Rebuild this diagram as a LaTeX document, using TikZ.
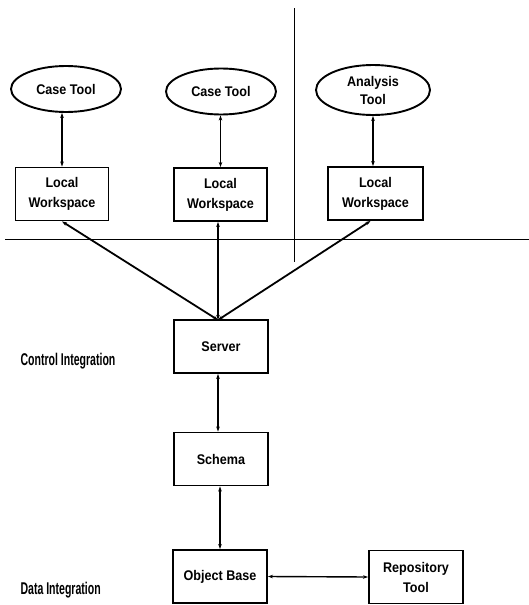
\documentclass[tikz,border=0pt]{standalone}
\usepackage{fontspec}
\setmainfont{Liberation Sans}
\newfontfamily\narrowfont[FakeStretch=0.62]{Liberation Sans}
\newfontfamily\boxfont[FakeStretch=0.9]{Liberation Sans}
\usetikzlibrary{shapes.geometric,arrows.meta}

\tikzset{
  tool/.style={draw, ellipse, line width=1.9pt, minimum width=110pt, minimum height=46pt,
    inner sep=0pt, align=center, font=\boxfont\fontsize{14}{18}\selectfont\bfseries},
  unit/.style={draw, rectangle, line width=1.9pt, minimum width=93pt, minimum height=53pt,
    inner sep=0pt, align=center, font=\boxfont\fontsize{14}{20}\selectfont\bfseries},
  link/.style={{Stealth[length=5pt,width=3.5pt]}-{Stealth[length=5pt,width=3.5pt]}, line width=1.4pt},
  feed/.style={link, line width=1.8pt},
  divider/.style={line width=0.8pt},
  level/.style={anchor=west, font=\narrowfont\fontsize{17}{19}\selectfont\bfseries}
}

\begin{document}
\begin{tikzpicture}[x=1pt, y=-1pt]
  \useasboundingbox (0,0) rectangle (529,605);

  % --- 1. separators ---
  \draw[divider] (5,239) -- (529,239);
  \draw[divider] (294,8) -- (294,262);

  % --- 2. tools ---
  \node[tool] (case1) at (66,89) {Case Tool};
  \node[tool] (case2) at (221,91.5) {Case Tool};
  \node[tool, minimum width=114pt, minimum height=50pt] (analysis) at (373,90) {Analysis\\Tool};

  % --- 3. local workspaces ---
  \node[unit] (ws1) at (62,194) {Local\\Workspace};
  \node[unit] (ws2) at (220.5,194.5) {Local\\Workspace};
  \node[unit, minimum width=95pt] (ws3) at (375.5,193.5) {Local\\Workspace};

  % --- 4. central units ---
  \node[unit, minimum width=94pt] (server) at (221,346.5) {Server};
  \node[unit, minimum width=94pt] (schema) at (221,459) {Schema};
  \node[unit, minimum width=94pt] (objbase) at (220,576.5) {Object Base};
  \node[unit, minimum width=94pt] (repo) at (416,577) {Repository\\Tool};

  % --- 5. levels ---
  \node[level] (ctrl) at (17,361) {Control Integration};
  \node[level] (data) at (17,590) {Data Integration};

  % --- 6. connectors ---
  \draw[link] (ws1.north) -- (ws1.north |- case1.south);
  \draw[link] (ws2.north) -- (ws2.north |- case2.south);
  \draw[link] (ws3.north -| analysis.south) -- (analysis.south);

  \coordinate (hub) at (218,320);
  \draw[feed] (ws1.south) -- (hub);
  \draw[feed] (ws2.south -| hub) -- (hub);
  \draw[feed] ([xshift=-5pt]ws3.south) -- (hub);

  \draw[link] (server.south -| hub) -- (schema.north -| hub);
  \draw[link] (schema.south -| objbase) -- (objbase.north);
  \draw[link] (objbase.east) -- (repo.west);

\end{tikzpicture}
\end{document}
